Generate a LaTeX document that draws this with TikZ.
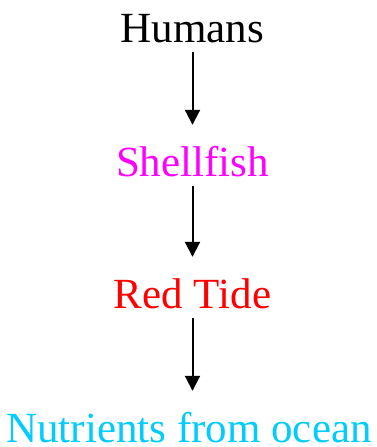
\documentclass[tikz,border=0pt]{standalone}
\usepackage{fontspec}
\setmainfont{Liberation Serif}
\usetikzlibrary{arrows.meta}
\definecolor{shellpink}{RGB}{255,0,255}
\definecolor{tidered}{RGB}{255,0,0}
\definecolor{oceanblue}{RGB}{0,204,255}

\begin{document}
\begin{tikzpicture}[x=1pt,y=-1pt,
  lbl/.style={anchor=base,inner sep=0pt,text height=30pt,text depth=10pt,font=\fontsize{43}{50}\selectfont},
  arr/.style={-{Triangle[length=15pt,width=15pt]},line width=2pt,shorten >=21pt}]
% frame
\useasboundingbox (0,0) rectangle (377,447);
% draw food chain
\node[lbl] (humans) at (192.5,42) {Humans};
\node[lbl,text=shellpink] (shellfish) at (192.5,176) {Shellfish};
\node[lbl,text=tidered] (redtide) at (192.5,308) {Red Tide};
\node[lbl,text=oceanblue,text depth=2pt] (nutrients) at (189,442) {Nutrients from ocean};
% draw arrows
\draw[arr] (humans.south) -- (shellfish.north);
\draw[arr] (shellfish.south) -- (redtide.north);
\draw[arr] (redtide.south) -- (redtide.south |- nutrients.north);
\end{tikzpicture}
\end{document}
